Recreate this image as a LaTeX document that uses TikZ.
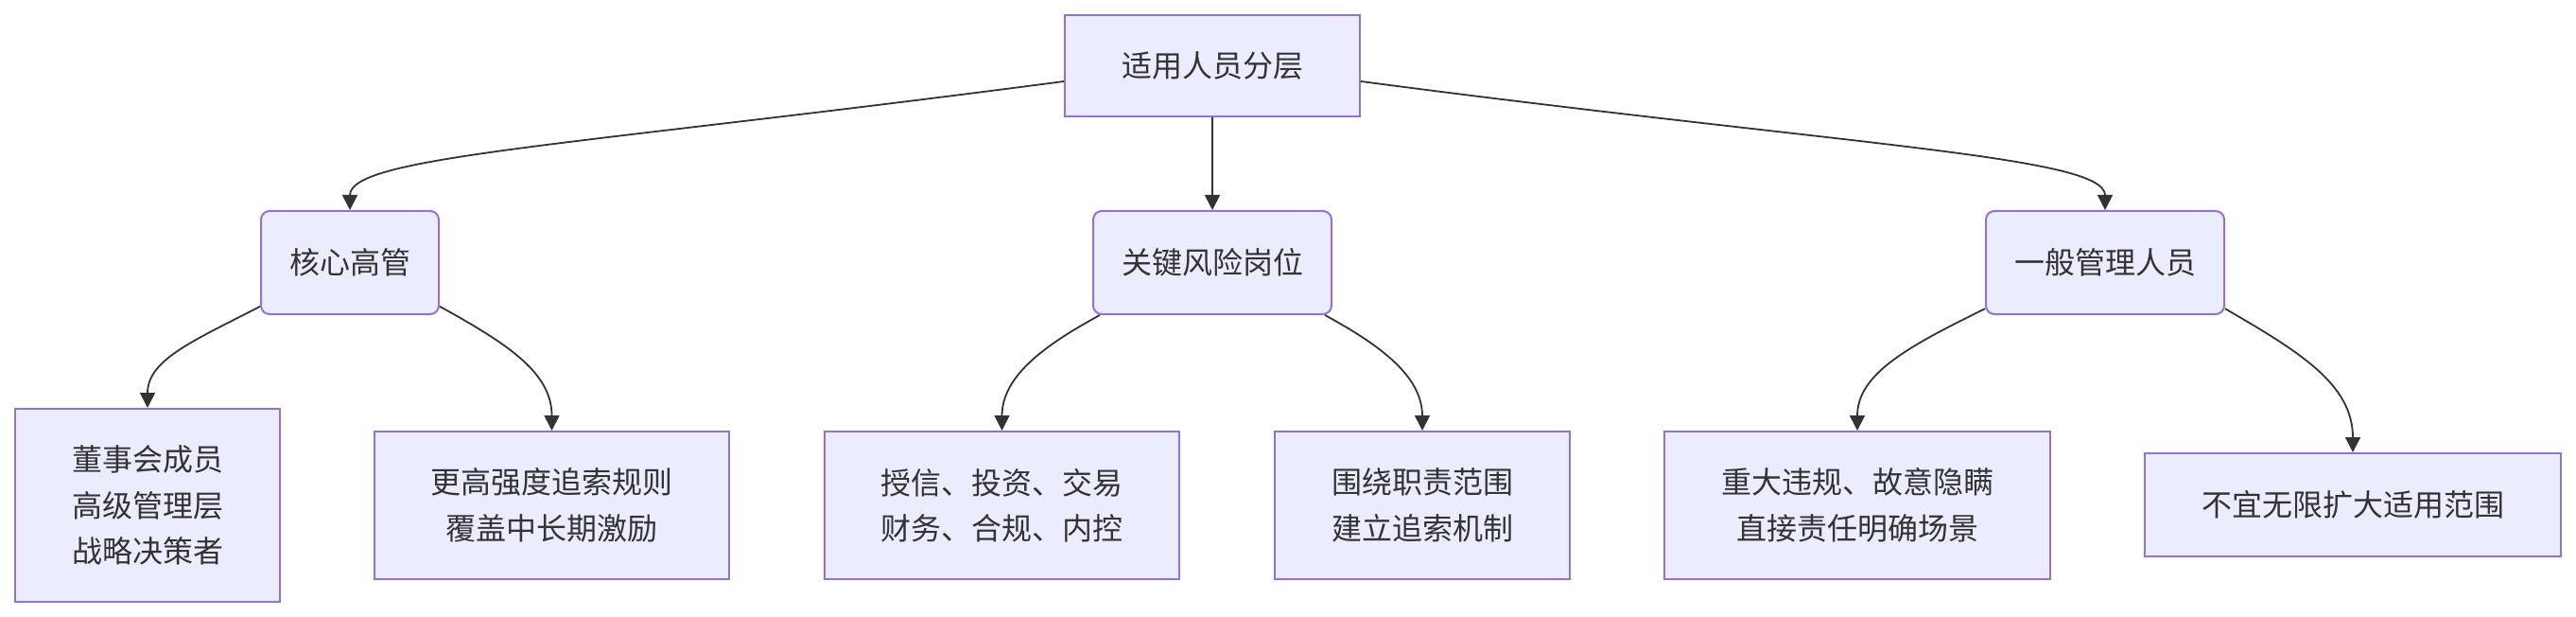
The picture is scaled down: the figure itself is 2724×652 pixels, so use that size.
\documentclass[tikz,border=0pt]{standalone}
\usepackage{fontspec}
\setmainfont{Noto Sans CJK SC}
\usetikzlibrary{arrows.meta}
\definecolor{nodefill}{HTML}{ECECFF}
\definecolor{nodeline}{HTML}{9370DB}
\definecolor{ink}{HTML}{333333}
\begin{document}
\begin{tikzpicture}[x=0.5pt,y=-0.5pt,
  box/.style={draw=nodeline, fill=nodefill, line width=1pt, inner sep=0pt,
    align=center, text=ink, font=\fontsize{16pt}{24.25pt}\selectfont},
  rbox/.style={box, rounded corners=4.5pt},
  conn/.style={draw=ink, line width=0.9pt, -{Triangle[length=8pt,width=8pt]}}]
\useasboundingbox (0,0) rectangle (2724,652);
\fill[white] (0,0) rectangle (2724,652);
% nodes
\node[box, minimum width=156pt, minimum height=53.5pt] (root) at (1282,69.5) {适用人员分层};
\node[rbox, minimum width=94pt, minimum height=54.5pt] (A) at (370,277.5) {核心高管};
\node[rbox, minimum width=126pt, minimum height=54.5pt] (B) at (1282,277.5) {关键风险岗位};
\node[rbox, minimum width=126pt, minimum height=54.5pt] (C) at (2226,277.5) {一般管理人员};
\node[box, minimum width=140pt, minimum height=102pt] (A1) at (156,534) {董事会成员\\高级管理层\\战略决策者};
\node[box, minimum width=187.5pt, minimum height=78pt] (A2) at (583.5,534) {更高强度追索规则\\覆盖中长期激励};
\node[box, minimum width=187.5pt, minimum height=78pt] (B1) at (1059.5,534) {授信、投资、交易\\财务、合规、内控};
\node[box, minimum width=156pt, minimum height=78pt] (B2) at (1504,534) {围绕职责范围\\建立追索机制};
\node[box, minimum width=204pt, minimum height=78pt] (C1) at (1964,534) {重大违规、故意隐瞒\\直接责任明确场景};
\node[box, minimum width=220pt, minimum height=54.5pt] (C2) at (2488,533.5) {不宜无限扩大适用范围};
% connectors
\draw[conn] (root.186.8) .. controls (600,155) and (370,165) .. (A.north);
\draw[conn] (root.south) -- (B.north);
\draw[conn] (root.-6.8) .. controls (1964,155) and (2226,165) .. (C.north);
\draw[conn] (A.206.3) .. controls (205,360) and (156,380) .. (A1.north);
\draw[conn] (A.-26.3) .. controls (540,365) and (583.5,395) .. (A2.north);
\draw[conn] (B.205.2) .. controls (1106,364) and (1059.5,397) .. (B1.north);
\draw[conn] (B.-25.2) .. controls (1458,364) and (1504,397) .. (B2.north);
\draw[conn] (C.201.8) .. controls (2018,366) and (1964,395) .. (C1.north);
\draw[conn] (C.-21.8) .. controls (2434,373) and (2488,407) .. (C2.north);
\end{tikzpicture}
\end{document}
